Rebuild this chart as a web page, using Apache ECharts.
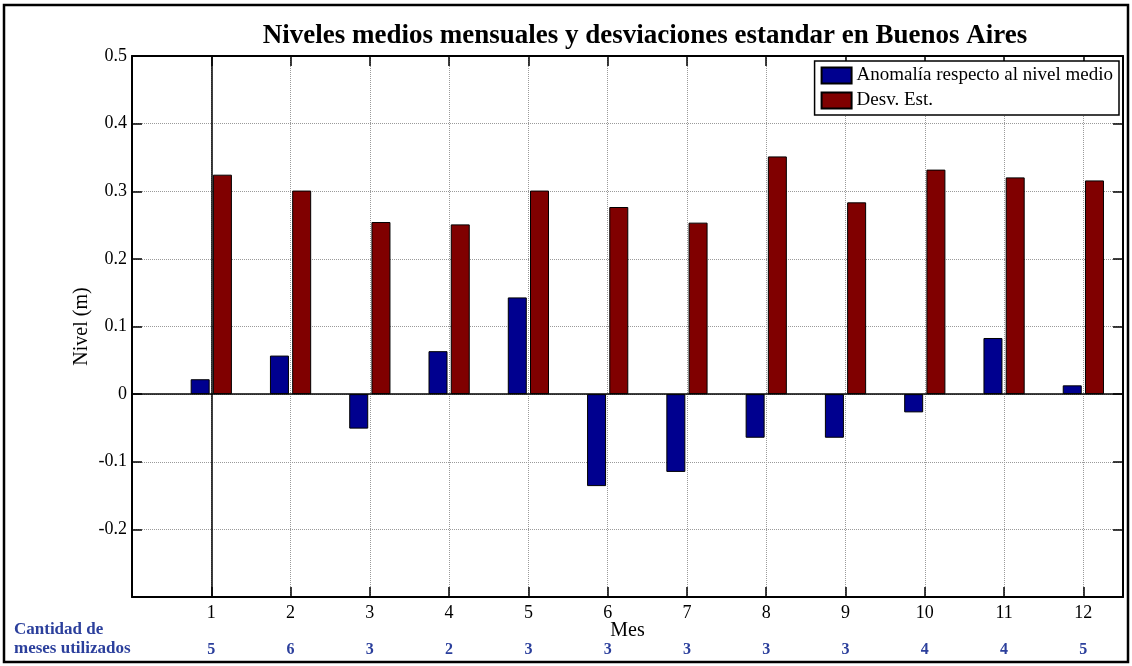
<!DOCTYPE html>
<html>
<head>
<meta charset="utf-8">
<script src="https://cdn.jsdelivr.net/npm/echarts@6/dist/echarts.min.js"></script>
<style>html,body{margin:0;padding:0;background:#fff}#c{width:1132px;height:666px}</style>
</head>
<body>
<div id="c"></div>
<script>
var months = [1,2,3,4,5,6,7,8,9,10,11,12];
var monthLabels = ['1','2','3','4','5','6','7','8','9','10','11','12'];
var anomalia = [0.022,0.057,-0.051,0.0635,0.143,-0.136,-0.115,-0.0645,-0.0645,-0.027,0.083,0.013];
var desvEst = [0.3245,0.301,0.2545,0.251,0.301,0.2767,0.2536,0.3515,0.2836,0.332,0.3205,0.316];
var mesesUtilizados = [5,6,3,2,3,3,3,3,3,4,4,5];
var yTickLabels = {'-0.3':'','-0.2':'-0.2','-0.1':'-0.1','0':'0','0.1':'0.1','0.2':'0.2','0.3':'0.3','0.4':'0.4','0.5':'0.5'};
var refLineX = 1;

var serif = '"Liberation Serif", "Times New Roman", serif';
var blueTxt = '#2B3F9C';
function pairs(vals){ return months.map(function(m,i){ return [m, vals[i]]; }); }

var chart = echarts.init(document.getElementById('c'), null, {renderer:'canvas'});
var gridLine = {show:true, lineStyle:{color:'#9a9a9a', type:[1,1], width:1}};
chart.setOption({
  animation:false,
  backgroundColor:'#fff',
  title:{
    text:'Niveles medios mensuales y desviaciones estandar en Buenos Aires',
    left:640, top:18, textAlign:'center',
    textStyle:{fontFamily:serif, fontWeight:'bold', fontSize:27, color:'#000'}
  },
  legend:{
    right:13, top:61, orient:'vertical',
    itemWidth:30, itemHeight:16, itemGap:6, icon:'rect',
    padding:[5,6,5,6],
    backgroundColor:'#fff', borderColor:'#000', borderWidth:1.5,
    textStyle:{fontFamily:serif, fontSize:19, color:'#000', lineHeight:16},
    data:['Anomalía respecto al nivel medio','Desv. Est.']
  },
  grid:{left:132, top:56, right:9, bottom:69, containLabel:false},
  xAxis:[{
    type:'value', min:0, max:12.5, interval:1,
    axisLine:{show:true, onZero:false, lineStyle:{color:'#000', width:2}},
    axisTick:{show:true, inside:true, length:10, lineStyle:{color:'#000', width:1.5}},
    axisLabel:{margin:7, fontFamily:serif, fontSize:18, color:'#000',
      formatter:function(v){ return monthLabels[v-1] || ''; }},
    splitLine:gridLine,
    name:'Mes', nameLocation:'middle', nameGap:24, nameMoveOverlap:false,
    nameTextStyle:{fontFamily:serif, fontSize:20, color:'#000'}
  },{
    type:'value', min:0, max:12.5, interval:1, position:'bottom',
    axisLine:{show:false}, axisTick:{show:false}, splitLine:{show:false},
    axisLabel:{margin:45, fontFamily:serif, fontSize:16, fontWeight:'bold', color:blueTxt,
      formatter:function(v){ var c = mesesUtilizados[v-1]; return c === undefined ? '' : String(c); }}
  },{
    type:'value', min:0, max:12.5, interval:1, position:'top',
    axisLine:{show:true, onZero:false, lineStyle:{color:'#000', width:2}},
    axisTick:{show:true, inside:true, length:10, lineStyle:{color:'#000', width:1.5}},
    axisLabel:{show:false}, splitLine:{show:false}
  }],
  yAxis:[{
    type:'value', min:-0.3, max:0.5, interval:0.1,
    axisLine:{show:true, onZero:false, lineStyle:{color:'#000', width:2}},
    axisTick:{show:true, inside:true, length:10, lineStyle:{color:'#000', width:1.5}},
    axisLabel:{margin:5, fontFamily:serif, fontSize:18, color:'#000',
      formatter:function(v){ var k = String(Math.round(v*10)/10); return yTickLabels[k] !== undefined ? yTickLabels[k] : k; }},
    splitLine:gridLine,
    name:'Nivel (m)', nameLocation:'middle', nameGap:40, nameRotate:90, nameMoveOverlap:false,
    nameTextStyle:{fontFamily:serif, fontSize:20, color:'#000'}
  },{
    type:'value', min:-0.3, max:0.5, interval:0.1, position:'right',
    axisLine:{show:true, onZero:false, lineStyle:{color:'#000', width:2}},
    axisTick:{show:true, inside:true, length:10, lineStyle:{color:'#000', width:1.5}},
    axisLabel:{show:false}, splitLine:{show:false}
  }],
  series:[{
    name:'Anomalía respecto al nivel medio', type:'bar', xAxisIndex:0, yAxisIndex:0,
    data:pairs(anomalia), barWidth:19, barGap:'17%',
    itemStyle:{color:'#00008F', borderColor:'#000', borderWidth:1}
  },{
    name:'Desv. Est.', type:'bar', xAxisIndex:0, yAxisIndex:0,
    data:pairs(desvEst), barWidth:19, barGap:'17%',
    itemStyle:{color:'#800000', borderColor:'#000', borderWidth:1},
    markLine:{silent:true, symbol:'none', label:{show:false},
      lineStyle:{color:'#000', type:'solid', width:1.5},
      data:[{yAxis:0}]}
  },{
    name:'ref', type:'line', xAxisIndex:0, yAxisIndex:0, silent:true,
    data:[], symbol:'none',
    markLine:{silent:true, symbol:'none', label:{show:false},
      lineStyle:{color:'#000', type:'solid', width:1.5},
      data:[{xAxis:refLineX}]}
  }],
  graphic:[
    {type:'rect', shape:{x:4, y:5, width:1124, height:657}, style:{fill:null, stroke:'#000', lineWidth:2.5}, silent:true, z:100},
    {type:'text', left:14, top:621, style:{text:'Cantidad de', font:'bold 17px ' + serif, fill:blueTxt}},
    {type:'text', left:14, top:640, style:{text:'meses utilizados', font:'bold 17px ' + serif, fill:blueTxt}}
  ]
});
</script>
</body>
</html>
